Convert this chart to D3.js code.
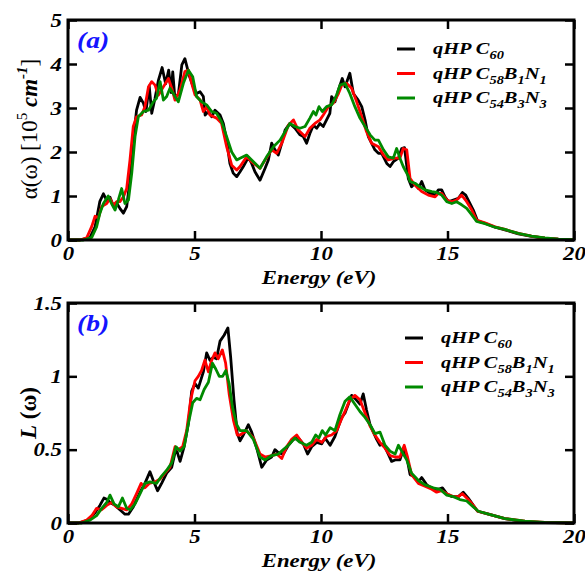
<!DOCTYPE html>
<html>
<head>
<meta charset="utf-8">
<script src="https://cdn.jsdelivr.net/npm/d3@7"></script>
<style>
  body { margin: 0; background: #fff; }
  text { font-family: "Liberation Serif", "Times New Roman", serif; }
</style>
</head>
<body>
<svg id="chart" width="585" height="571"></svg>
<script>
// ---- data -------------------------------------------------------------
const energyTicks = [0, 5, 10, 15, 20];
const absTicks = [0, 1, 2, 3, 4, 5];
const lossTicks = [0, 0.5, 1, 1.5];

const seriesColors = ["#000000", "#ff0000", "#008a00"];
// legend entries as [text, isSubscript] pieces
const seriesLabels = [
  [["qHP C", false], ["60", true]],
  [["qHP C", false], ["58", true], ["B", false], ["1", true], ["N", false], ["1", true]],
  [["qHP C", false], ["54", true], ["B", false], ["3", true], ["N", false], ["3", true]]
];

// absorption coefficient, [energy (eV), alpha (10^5 cm^-1)]
const absC60 = [[0,0],[0.47,0],[0.87,0.06],[1.07,0.3],[1.26,0.88],[1.4,1.05],[1.53,0.9],[1.66,0.97],[1.79,0.78],[1.92,0.84],[2.05,0.72],[2.19,0.61],[2.32,0.76],[2.45,1.36],[2.58,2.27],[2.71,2.95],[2.85,3.24],[2.98,3.11],[3.08,2.92],[3.21,3.5],[3.31,2.88],[3.44,3.22],[3.57,3.62],[3.72,3.92],[3.86,3.55],[3.98,3.86],[4.08,3.35],[4.14,3.82],[4.22,3.26],[4.36,3.3],[4.5,3.98],[4.62,4.12],[4.8,3.72],[4.95,3.48],[5.08,3.33],[5.22,3.37],[5.35,3.26],[5.42,2.84],[5.55,2.92],[5.68,2.8],[5.81,2.95],[6.01,2.84],[6.14,2.65],[6.27,2.27],[6.4,1.74],[6.53,1.52],[6.67,1.44],[6.8,1.55],[6.93,1.67],[7.13,1.88],[7.26,1.74],[7.39,1.55],[7.59,1.36],[7.79,1.63],[7.92,1.82],[8.05,2.2],[8.18,2.05],[8.31,1.93],[8.45,2.2],[8.58,2.5],[8.77,2.65],[8.97,2.54],[9.17,2.39],[9.3,2.35],[9.43,2.2],[9.56,2.42],[9.7,2.61],[9.83,2.54],[9.96,2.65],[10.09,2.58],[10.22,2.73],[10.35,2.88],[10.42,3.26],[10.55,3.14],[10.69,3.41],[10.84,3.67],[10.95,3.48],[11.14,3.79],[11.28,3.33],[11.47,3.18],[11.61,3.03],[11.74,2.73],[11.87,2.35],[12.0,2.2],[12.13,2.05],[12.27,1.97],[12.4,1.97],[12.6,1.74],[12.73,1.67],[12.86,1.78],[13.06,1.86],[13.19,2.08],[13.3,2.1],[13.45,1.4],[13.58,1.21],[13.71,1.29],[13.85,1.17],[13.98,1.33],[14.11,1.14],[14.31,1.06],[14.51,1.02],[14.64,1.14],[14.77,1.14],[14.9,0.98],[15.04,0.87],[15.23,0.91],[15.43,0.95],[15.59,1.08],[15.72,1.02],[15.85,0.87],[16.02,0.68],[16.19,0.43],[16.48,0.38],[16.88,0.29],[17.27,0.23],[17.8,0.14],[18.32,0.08],[18.85,0.04],[19.38,0.02],[20,0.01]];
const absB1N1 = [[0,0],[0.47,0],[0.74,0.05],[0.94,0.31],[1.07,0.54],[1.2,0.5],[1.33,0.76],[1.53,0.83],[1.66,0.94],[1.79,0.79],[1.92,0.87],[2.05,0.87],[2.19,0.98],[2.32,1.17],[2.45,1.82],[2.58,2.58],[2.71,2.8],[2.91,2.84],[3.04,3.03],[3.18,3.48],[3.31,3.6],[3.44,3.52],[3.57,3.29],[3.77,3.48],[3.97,3.67],[4.1,3.45],[4.23,3.18],[4.43,3.41],[4.62,3.83],[4.76,3.86],[4.89,3.56],[5.02,3.3],[5.22,3.18],[5.35,2.92],[5.48,3.03],[5.61,2.84],[5.87,2.77],[6.07,2.65],[6.27,2.12],[6.47,1.7],[6.67,1.59],[6.8,1.67],[7.06,1.89],[7.26,1.78],[7.59,1.63],[7.79,1.82],[8.05,2.05],[8.25,1.97],[8.45,2.2],[8.71,2.61],[8.91,2.73],[9.1,2.5],[9.37,2.35],[9.56,2.54],[9.76,2.65],[9.96,2.73],[10.09,2.84],[10.29,3.03],[10.49,3.11],[10.69,3.33],[10.82,3.52],[11.01,3.56],[11.21,3.45],[11.41,3.14],[11.61,2.8],[11.8,2.46],[12.0,2.2],[12.27,2.12],[12.47,1.93],[12.66,1.82],[12.93,1.86],[13.12,1.86],[13.25,2.08],[13.39,2.05],[13.52,1.4],[13.71,1.25],[13.98,1.1],[14.24,1.02],[14.51,0.98],[14.64,1.06],[14.77,1.06],[14.97,0.91],[15.17,0.87],[15.36,0.91],[15.56,1.02],[15.76,0.87],[15.96,0.68],[16.15,0.45],[16.48,0.39],[16.88,0.3],[17.27,0.24],[17.8,0.15],[18.32,0.09],[18.85,0.04],[19.38,0.02],[20,0.01]];
const absB3N3 = [[0,0],[0.61,0],[0.94,0.06],[1.13,0.3],[1.26,0.61],[1.4,0.83],[1.59,1.0],[1.72,0.83],[1.86,0.68],[1.99,0.91],[2.12,1.17],[2.25,0.83],[2.39,0.91],[2.52,1.52],[2.65,2.35],[2.78,2.8],[2.98,2.92],[3.18,2.95],[3.37,3.14],[3.5,3.22],[3.64,3.6],[3.77,3.18],[3.9,3.26],[4.03,3.45],[4.16,3.33],[4.36,3.14],[4.56,3.56],[4.76,3.86],[4.93,3.71],[5.08,3.26],[5.28,3.14],[5.48,3.07],[5.68,2.92],[5.87,2.88],[6.07,2.69],[6.27,2.35],[6.47,2.0],[6.67,1.82],[6.8,1.86],[7.06,1.93],[7.33,1.78],[7.59,1.63],[7.85,1.89],[8.12,2.12],[8.38,2.27],[8.58,2.46],[8.77,2.65],[8.97,2.58],[9.17,2.54],[9.37,2.58],[9.56,2.77],[9.7,2.92],[9.8,2.84],[9.92,3.03],[10.05,2.92],[10.22,3.03],[10.42,3.07],[10.62,3.3],[10.75,3.52],[10.95,3.56],[11.14,3.33],[11.34,3.03],[11.54,2.77],[11.74,2.58],[11.94,2.39],[12.13,2.27],[12.27,2.27],[12.47,2.05],[12.66,1.89],[12.86,1.86],[12.99,2.08],[13.12,1.86],[13.25,1.67],[13.45,1.45],[13.52,1.33],[13.71,1.29],[13.91,1.21],[14.11,1.14],[14.38,1.1],[14.57,1.08],[14.77,1.02],[14.97,0.87],[15.17,0.83],[15.36,0.87],[15.56,0.8],[15.76,0.72],[15.96,0.57],[16.15,0.42],[16.48,0.37],[16.88,0.29],[17.27,0.24],[17.8,0.15],[18.32,0.09],[18.85,0.05],[19.38,0.02],[20,0.01]];

// energy-loss function, [energy (eV), L]
const lossC60 = [[0,0],[0.41,0],[0.8,0.02],[1.07,0.07],[1.26,0.12],[1.42,0.17],[1.55,0.16],[1.66,0.14],[1.86,0.12],[2.05,0.09],[2.25,0.06],[2.39,0.06],[2.58,0.11],[2.85,0.21],[3.04,0.27],[3.24,0.35],[3.37,0.29],[3.54,0.22],[3.7,0.27],[3.9,0.34],[4.1,0.38],[4.27,0.51],[4.43,0.42],[4.59,0.52],[4.76,0.68],[4.89,0.9],[5.02,0.95],[5.15,0.92],[5.35,1.03],[5.48,1.16],[5.61,1.11],[5.74,1.13],[5.87,1.12],[6.01,1.24],[6.17,1.28],[6.32,1.33],[6.43,1.13],[6.56,0.84],[6.69,0.61],[6.8,0.56],[6.93,0.6],[7.13,0.67],[7.26,0.62],[7.46,0.51],[7.66,0.38],[7.85,0.43],[8.05,0.45],[8.18,0.5],[8.31,0.48],[8.51,0.47],[8.71,0.53],[8.91,0.57],[9.1,0.58],[9.3,0.54],[9.47,0.47],[9.63,0.52],[9.83,0.55],[10.03,0.54],[10.16,0.58],[10.36,0.53],[10.55,0.59],[10.69,0.66],[10.82,0.72],[10.95,0.75],[11.08,0.81],[11.21,0.87],[11.34,0.85],[11.54,0.81],[11.67,0.88],[11.8,0.77],[11.94,0.67],[12.07,0.62],[12.2,0.57],[12.33,0.53],[12.47,0.54],[12.66,0.47],[12.79,0.42],[12.93,0.43],[13.12,0.43],[13.25,0.5],[13.39,0.45],[13.52,0.33],[13.65,0.32],[13.85,0.28],[13.98,0.31],[14.18,0.26],[14.44,0.23],[14.64,0.23],[14.8,0.24],[14.97,0.2],[15.17,0.18],[15.43,0.18],[15.62,0.21],[15.82,0.17],[16.02,0.12],[16.19,0.08],[16.62,0.06],[17.27,0.03],[18.06,0.01],[18.85,0.003],[20,0]];
const lossB1N1 = [[0,0],[0.41,0],[0.74,0.02],[0.94,0.05],[1.13,0.1],[1.33,0.09],[1.53,0.12],[1.72,0.14],[1.92,0.11],[2.12,0.1],[2.32,0.09],[2.52,0.13],[2.71,0.2],[2.89,0.27],[3.04,0.24],[3.21,0.27],[3.44,0.28],[3.64,0.3],[3.83,0.34],[4.03,0.38],[4.23,0.52],[4.36,0.5],[4.53,0.52],[4.69,0.63],[4.85,0.84],[5.02,0.97],[5.15,1.0],[5.28,1.04],[5.41,1.11],[5.55,1.03],[5.68,1.11],[5.81,1.16],[5.94,1.12],[6.1,1.18],[6.23,1.09],[6.37,0.88],[6.54,0.7],[6.69,0.6],[6.8,0.6],[7.06,0.63],[7.33,0.58],[7.59,0.47],[7.79,0.45],[8.05,0.46],[8.25,0.47],[8.45,0.44],[8.64,0.52],[8.84,0.57],[9.04,0.6],[9.24,0.55],[9.43,0.51],[9.63,0.53],[9.83,0.57],[10.03,0.55],[10.22,0.59],[10.42,0.6],[10.62,0.63],[10.79,0.7],[10.97,0.77],[11.14,0.84],[11.34,0.87],[11.54,0.84],[11.74,0.75],[11.94,0.66],[12.13,0.6],[12.33,0.55],[12.53,0.51],[12.73,0.46],[12.93,0.45],[13.12,0.45],[13.29,0.53],[13.42,0.45],[13.58,0.33],[13.85,0.27],[14.11,0.25],[14.38,0.23],[14.57,0.21],[14.77,0.22],[14.97,0.2],[15.23,0.18],[15.43,0.18],[15.59,0.2],[15.82,0.16],[16.02,0.12],[16.19,0.08],[16.62,0.06],[17.27,0.03],[18.06,0.012],[18.85,0.004],[20,0]];
const lossB3N3 = [[0,0],[0.54,0],[0.87,0.02],[1.13,0.05],[1.33,0.1],[1.53,0.14],[1.66,0.19],[1.82,0.13],[1.99,0.11],[2.15,0.17],[2.32,0.1],[2.45,0.09],[2.65,0.13],[2.85,0.2],[3.04,0.27],[3.24,0.28],[3.5,0.27],[3.7,0.32],[3.9,0.36],[4.1,0.41],[4.27,0.52],[4.43,0.49],[4.59,0.52],[4.76,0.68],[4.93,0.82],[5.08,0.85],[5.22,0.84],[5.38,0.91],[5.55,0.96],[5.71,1.09],[5.84,1.05],[5.98,1.0],[6.11,1.0],[6.24,1.04],[6.37,0.95],[6.5,0.79],[6.67,0.67],[6.8,0.63],[7.06,0.63],[7.33,0.57],[7.59,0.45],[7.79,0.43],[8.05,0.46],[8.31,0.47],[8.51,0.5],[8.71,0.53],[8.97,0.58],[9.17,0.55],[9.43,0.53],[9.63,0.55],[9.79,0.6],[9.92,0.58],[10.05,0.63],[10.18,0.6],[10.36,0.65],[10.55,0.63],[10.75,0.74],[10.95,0.83],[11.14,0.86],[11.34,0.81],[11.54,0.76],[11.74,0.72],[11.94,0.67],[12.13,0.61],[12.33,0.62],[12.53,0.53],[12.73,0.49],[12.93,0.47],[13.06,0.53],[13.19,0.49],[13.39,0.43],[13.58,0.34],[13.85,0.29],[14.11,0.26],[14.44,0.24],[14.7,0.23],[14.97,0.19],[15.23,0.18],[15.49,0.16],[15.76,0.15],[16.02,0.11],[16.22,0.08],[16.62,0.06],[17.27,0.03],[18.06,0.012],[18.85,0.004],[20,0]];

// ---- layout -----------------------------------------------------------
const svg = d3.select("#chart");
const plotLeft = 68, plotRight = 574;
const textStretch = 1.2;   // widen horizontal glyphs

const panels = [
  { top: 20, bottom: 240, yMax: 5, ticks: absTicks, series: [absC60, absB1N1, absB3N3],
    tag: "(a)", legendX: 397, legendY: 49 },
  { top: 303, bottom: 523, yMax: 1.5, ticks: lossTicks, series: [lossC60, lossB1N1, lossB3N3],
    tag: "(b)", legendX: 405, legendY: 338 }
];

const x = d3.scaleLinear().domain([0, 20]).range([plotLeft, plotRight]);
const plainNumber = d => String(d);

panels.forEach(p => {
  const y = d3.scaleLinear().domain([0, p.yMax]).range([p.bottom, p.top]);
  const g = svg.append("g");

  const line = d3.line().x(d => x(d[0])).y(d => y(d[1]));
  p.series.forEach((s, i) => {
    g.append("path").datum(s)
      .attr("d", line)
      .attr("fill", "none")
      .attr("stroke", seriesColors[i])
      .attr("stroke-width", 2.8)
      .attr("stroke-linejoin", "round");
  });

  // axes: inward ticks on all four sides, labels bottom and left
  const tickFont = sel => sel.selectAll("text")
    .attr("font-family", "'Liberation Serif', serif")
    .attr("font-size", 19).attr("font-weight", "bold").attr("font-style", "italic")
    .attr("fill", "#000")
    .attr("transform", `scale(${textStretch},1)`);
  const styleAxis = sel => {
    sel.select(".domain").remove();
    sel.selectAll(".tick line").attr("stroke", "#000").attr("stroke-width", 2.5);
  };

  g.append("g").attr("transform", `translate(0,${p.bottom})`)
    .call(d3.axisBottom(x).tickValues(energyTicks).tickFormat(plainNumber).tickSize(-9).tickPadding(7))
    .call(styleAxis).call(tickFont);

  g.append("g").attr("transform", `translate(0,${p.top})`)
    .call(d3.axisTop(x).tickValues(energyTicks).tickSize(-9).tickFormat(""))
    .call(styleAxis);

  g.append("g").attr("transform", `translate(${plotLeft},0)`)
    .call(d3.axisLeft(y).tickValues(p.ticks).tickFormat(plainNumber).tickSize(-9).tickPadding(5))
    .call(styleAxis).call(tickFont);

  g.append("g").attr("transform", `translate(${plotRight},0)`)
    .call(d3.axisRight(y).tickValues(p.ticks).tickSize(-9).tickFormat(""))
    .call(styleAxis);

  // frame
  g.append("rect")
    .attr("x", plotLeft).attr("y", p.top)
    .attr("width", plotRight - plotLeft).attr("height", p.bottom - p.top)
    .attr("fill", "none").attr("stroke", "#000").attr("stroke-width", 3);

  // panel tag
  g.append("text")
    .attr("transform", `translate(${plotLeft + 9},${p.top + 28}) scale(${textStretch},1)`)
    .attr("font-size", 23).attr("font-weight", "bold").attr("font-style", "italic")
    .attr("fill", "#1414ff").text(p.tag);

  // x-axis title
  g.append("text")
    .attr("transform", `translate(${(plotLeft + plotRight) / 2 - 2},${p.bottom + 44}) scale(${textStretch},1)`)
    .attr("text-anchor", "middle")
    .attr("font-size", 19).attr("font-weight", "bold").attr("font-style", "italic")
    .text("Energy (eV)");

  // legend
  const leg = g.append("g");
  seriesLabels.forEach((pieces, i) => {
    const ly = p.legendY + i * 24.5;
    leg.append("line")
      .attr("x1", p.legendX).attr("x2", p.legendX + 18)
      .attr("y1", ly).attr("y2", ly)
      .attr("stroke", seriesColors[i]).attr("stroke-width", 3);
    const t = leg.append("text")
      .attr("transform", `translate(${p.legendX + 36},${ly + 5}) scale(${textStretch},1)`)
      .attr("font-size", 17).attr("font-weight", "bold").attr("font-style", "italic");
    let down = false;
    pieces.forEach(([txt, sub]) => {
      const ts = t.append("tspan").text(txt);
      if (sub && !down) { ts.attr("dy", 5).attr("font-size", 12); down = true; }
      else if (sub) { ts.attr("font-size", 12); }
      else if (down) { ts.attr("dy", -5); down = false; }
    });
  });
});

// y-axis titles
const ya = svg.append("text")
  .attr("transform", "translate(37,129) rotate(-90)")
  .attr("text-anchor", "middle").attr("font-size", 23);
ya.append("tspan").text("\u03b1(\u03c9) [10");
ya.append("tspan").attr("dy", -10).attr("font-size", 15).text("5");
ya.append("tspan").attr("dy", 10).attr("font-weight", "bold").attr("font-style", "italic").text(" cm");
ya.append("tspan").attr("dy", -10).attr("font-size", 15).attr("font-weight", "bold").attr("font-style", "italic").text("-1");
ya.append("tspan").attr("dy", 10).text("]");

const yb = svg.append("text")
  .attr("transform", "translate(36,413) rotate(-90)")
  .attr("text-anchor", "middle").attr("font-size", 23).attr("font-weight", "bold");
yb.append("tspan").attr("font-style", "italic").text("L");
yb.append("tspan").text(" (\u03c9)");
</script>
</body>
</html>
